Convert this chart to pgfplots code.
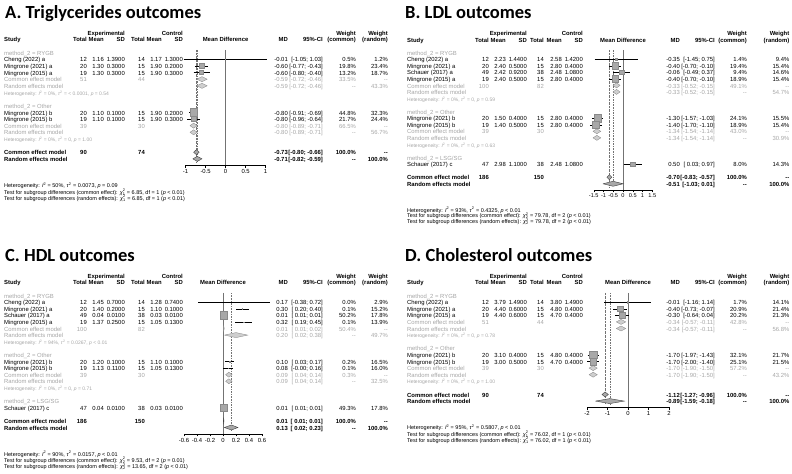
\documentclass[border=0pt]{standalone}
\usepackage{pgfplots}
\pgfplotsset{compat=1.18}
\usepackage{fontspec}
\setmainfont{Liberation Sans}
\newfontfamily\titlefont{Carlito}
\definecolor{sub}{HTML}{A6A6A6}
\definecolor{sqf}{HTML}{A8A8A8}
\definecolor{sqd}{HTML}{8A8A8A}
\newcommand\fnt{\fontsize{5.9bp}{7bp}\selectfont}
\newcommand\ftick{\fontsize{5.6bp}{7bp}\selectfont}
\newcommand\fhet{\fontsize{5bp}{6bp}\selectfont}
\newcommand\fbot{\fontsize{5.5bp}{6.5bp}\selectfont}
\newcommand\ftitle{\titlefont\bfseries\fontsize{18.5bp}{20bp}\selectfont}
\newcommand\chisq[1]{\textit{χ}\rlap{\textsuperscript{2}}\textsubscript{#1}}
\newcommand\Isq{\textit{I}\textsuperscript{2}}
\newcommand\tsq{\textit{τ}\textsuperscript{2}}
% column sets (absolute x)
\newcommand\colsL{\def\cS{4}\def\cNa{87}\def\cMa{104}\def\cSa{125}\def\cNb{145}\def\cMb{162}\def\cSb{183}%
 \def\cMD{288}\def\cCI{323}\def\cWc{356}\def\cWr{388}}
\newcommand\colsR{\def\cS{407}\def\cNa{489}\def\cMa{506}\def\cSa{527}\def\cNb{544}\def\cMb{562}\def\cSb{583}%
 \def\cMD{680}\def\cCI{715}\def\cWc{747}\def\cWr{789.5}}
\newcommand\PY[1]{{\Rz+#1*\Sp}}
\newcommand\PX[1]{{#1}}
\newcommand\srow[8]{%
 \node[L] at (\PX{\cS},\PY{#1}) {#2};
 \node[R] at (\PX{\cNa},\PY{#1}) {#3};
 \node[R] at (\PX{\cMa},\PY{#1}) {#4};
 \node[R] at (\PX{\cSa},\PY{#1}) {#5};
 \node[R] at (\PX{\cNb},\PY{#1}) {#6};
 \node[R] at (\PX{\cMb},\PY{#1}) {#7};
 \node[R] at (\PX{\cSb},\PY{#1}) {#8};}
\newcommand\rrow[5]{%
 \node[R] at (\PX{\cMD},\PY{#1}) {#2};
 \node[R] at (\PX{\cCI},\PY{#1}) {#3};
 \node[R] at (\PX{\cWc},\PY{#1}) {#4};
 \node[R] at (\PX{\cWr},\PY{#1}) {#5};}
\newcommand\crow[7]{%
 \node[L] at (\PX{\cS},\PY{#1}) {Common effect model};
 \node[R] at (\PX{\cNa},\PY{#1}) {#2};
 \node[R] at (\PX{\cNb},\PY{#1}) {#3};
 \rrow{#1}{#4}{#5}{#6}{#7}}
\newcommand\rarow[5]{%
 \node[L] at (\PX{\cS},\PY{#1}) {Random effects model};
 \rrow{#1}{#2}{#3}{#4}{#5}}
\newcommand\grp[2]{\node[L,text=sub] at (\PX{\cS},\PY{#1}) {#2};}
\newcommand\het[2]{\node[L,text=sub,font=\fhet] at (\PX{\cS},\PY{#1}) {#2};}
\newcommand\header{%
 \begin{scope}[every node/.append style={font=\fnt\bfseries}]
 \node[R] at (\PX{\cSa},\PY{0}) {Experimental};
 \node[R] at (\PX{\cSb},\PY{0}) {Control};
 \node[R] at (\PX{\cWc},\PY{0}) {Weight};
 \node[R] at (\PX{\cWr},\PY{0}) {Weight};
 \node[L] at (\PX{\cS},\PY{1}) {Study};
 \node[R] at (\PX{\cNa},\PY{1}) {Total};
 \node[R] at (\PX{\cMa},\PY{1}) {Mean};
 \node[R] at (\PX{\cSa},\PY{1}) {SD};
 \node[R] at (\PX{\cNb},\PY{1}) {Total};
 \node[R] at (\PX{\cMb},\PY{1}) {Mean};
 \node[R] at (\PX{\cSb},\PY{1}) {SD};
 \node[C] at (\fc,\PY{1}) {Mean Difference};
 \node[R] at (\PX{\cMD},\PY{1}) {MD};
 \node[R] at (\PX{\cCI},\PY{1}) {95\%-CI};
 \node[R] at (\PX{\cWc},\PY{1}) {(common)};
 \node[R] at (\PX{\cWr},\PY{1}) {(random)};
 \end{scope}}
\pgfplotsset{
 fp/.style={scale only axis, anchor=north west, clip=false, enlargelimits=false,
  axis y line=none, axis x line*=bottom, x axis line style={-, line width=0.4pt, black},
  tick align=outside, major tick length=2.5bp, xtick style={black, line width=0.4pt},
  xticklabel style={font=\fnt, inner sep=1.5pt, text=black}, ytick=\empty},
 zl/.style={draw=black!55, line width=0.4pt},
 cl/.style={draw=black!55, line width=0.4pt, densely dotted},
 rl/.style={draw=black!55, line width=0.4pt, dash pattern=on 1.6pt off 1pt},
 ci/.style={black, line width=0.35pt, unbounded coords=jump, mark=none},
 sqr/.style={only marks, mark=square*, scatter,
  scatter/use mapped color={draw=sqd, fill=sqf},
  visualization depends on={3.7*sqrt(\thisrow{w}/#1) \as \msz},
  scatter/@pre marker code/.append style={/tikz/mark size=\msz, /tikz/line width=0.3pt}},
 dsub/.style={draw=sqd, fill=sqf!55, line width=0.35pt, mark=none},
 dall/.style={draw=black!75, fill=sqf, line width=0.4pt, mark=none},
}
\begin{document}
\begin{tikzpicture}[x=1bp,y=-1bp, every node/.style={inner sep=0pt, font=\fnt},
  L/.style={anchor=mid west}, R/.style={anchor=mid east}, C/.style={anchor=mid}]
\useasboundingbox (0,0) rectangle (792,474);
% ================= Panel A =================
\colsL\def\Rz{32.7}\def\Sp{6.64}\def\fc{225.6}
\node[anchor=base west, font=\ftitle] at (5,19) {A. Triglycerides outcomes};
\header
\grp{3}{method\_2 = RYGB}
\srow{4}{Cheng (2022) a}{12}{1.16}{1.3900}{14}{1.17}{1.3000}
\rrow{4}{-0.01}{[-1.05; 1.03]}{0.5\%}{1.2\%}
\srow{5}{Mingrone (2021) a}{20}{1.30}{0.3000}{15}{1.90}{0.2000}
\rrow{5}{-0.60}{[-0.77; -0.43]}{19.8\%}{23.4\%}
\srow{6}{Mingrone (2015) a}{19}{1.30}{0.3000}{15}{1.90}{0.3000}
\rrow{6}{-0.60}{[-0.80; -0.40]}{13.2\%}{18.7\%}
\begin{scope}[every node/.append style={text=sub}]
\crow{7}{51}{44}{-0.59}{[-0.72; -0.46]}{33.5\%}{{-}{-}}
\rarow{8}{-0.59}{[-0.72; -0.46]}{{-}{-}}{43.3\%}
\end{scope}
\het{9}{Heterogeneity: \Isq{} = 0\%, \tsq{} = < 0.0001, \textit{p} = 0.54}
\grp{11}{method\_2 = Other}
\srow{12}{Mingrone (2021) b}{20}{1.10}{0.1000}{15}{1.90}{0.2000}
\rrow{12}{-0.80}{[-0.91; -0.69]}{44.8\%}{32.3\%}
\srow{13}{Mingrone (2015) b}{19}{1.10}{0.1000}{15}{1.90}{0.3000}
\rrow{13}{-0.80}{[-0.96; -0.64]}{21.7\%}{24.4\%}
\begin{scope}[every node/.append style={text=sub}]
\crow{14}{39}{30}{-0.80}{[-0.89; -0.71]}{66.5\%}{{-}{-}}
\rarow{15}{-0.80}{[-0.89; -0.71]}{{-}{-}}{56.7\%}
\end{scope}
\het{16}{Heterogeneity: \Isq{} = 0\%, \tsq{} = 0, \textit{p} = 1.00}
\begin{scope}[every node/.append style={font=\fnt\bfseries}]
\crow{18}{90}{74}{-0.73}{[-0.80; -0.66]}{100.0\%}{{-}{-}}
\rarow{19}{-0.71}{[-0.82; -0.59]}{{-}{-}}{100.0\%}
\end{scope}
\node[L,font=\fbot] at (\PX{\cS},185.1) {Heterogeneity: \Isq{} = 50\%, \tsq{} = 0.0073, \textit{p} = 0.09};
\node[L,font=\fbot] at (\PX{\cS},191.4) {Test for subgroup differences (common effect): \chisq{1} = 6.85, df = 1 (\textit{p} < 0.01)};
\node[L,font=\fbot] at (\PX{\cS},197.7) {Test for subgroup differences (random effects): \chisq{1} = 6.85, df = 1 (\textit{p} < 0.01)};
\begin{axis}[fp, at={(185.6bp,-49.96bp)}, width=80bp, height=115.2bp,
  xmin=-1, xmax=1, ymin=-19.95, ymax=-2.6,
  xtick={-1,-0.5,0,0.5,1}, xticklabels={-1,-0.5,0,0.5,1}]
\addplot[zl] coordinates {(0,-2.6) (0,-19.95)};
\addplot[cl] coordinates {(-0.73,-2.6) (-0.73,-19.5)};
\addplot[rl] coordinates {(-0.71,-2.6) (-0.71,-19.5)};
\addplot[ci] table {
x y
-1.05 -4
1.03 -4
nan nan
-0.77 -5
-0.43 -5
nan nan
-0.80 -6
-0.40 -6
nan nan
-0.91 -12
-0.69 -12
nan nan
-0.96 -13
-0.64 -13
};
\addplot[sqr=44.8] table[x=md, y=row] {
md row w
-0.01 -4 0.5
-0.60 -5 19.8
-0.60 -6 13.2
-0.80 -12 44.8
-0.80 -13 21.7
};
\addplot[dsub] coordinates {(-0.72,-7) (-0.59,-6.62) (-0.46,-7) (-0.59,-7.38) (-0.72,-7)};
\addplot[dsub] coordinates {(-0.72,-8) (-0.59,-7.62) (-0.46,-8) (-0.59,-8.38) (-0.72,-8)};
\addplot[dsub] coordinates {(-0.89,-14) (-0.80,-13.62) (-0.71,-14) (-0.80,-14.38) (-0.89,-14)};
\addplot[dsub] coordinates {(-0.89,-15) (-0.80,-14.62) (-0.71,-15) (-0.80,-15.38) (-0.89,-15)};
\addplot[dall] coordinates {(-0.80,-18) (-0.73,-17.62) (-0.66,-18) (-0.73,-18.38) (-0.80,-18)};
\addplot[dall] coordinates {(-0.82,-19) (-0.71,-18.62) (-0.59,-19) (-0.71,-19.38) (-0.82,-19)};
\end{axis}
% ================= Panel B =================
\colsR\def\Rz{32.9}\def\Sp{6.56}\def\fc{623}
\node[anchor=base west, font=\ftitle] at (405,19) {B. LDL outcomes};
\header
\grp{3}{method\_2 = RYGB}
\srow{4}{Cheng (2022) a}{12}{2.23}{1.4400}{14}{2.58}{1.4200}
\rrow{4}{-0.35}{[-1.45; 0.75]}{1.4\%}{9.4\%}
\srow{5}{Mingrone (2021) a}{20}{2.40}{0.5000}{15}{2.80}{0.4000}
\rrow{5}{-0.40}{[-0.70; -0.10]}{19.4\%}{15.4\%}
\srow{6}{Schauer (2017) a}{49}{2.42}{0.9200}{38}{2.48}{1.0800}
\rrow{6}{-0.06}{[-0.49; 0.37]}{9.4\%}{14.6\%}
\srow{7}{Mingrone (2015) a}{19}{2.40}{0.5000}{15}{2.80}{0.4000}
\rrow{7}{-0.40}{[-0.70; -0.10]}{18.9\%}{15.4\%}
\begin{scope}[every node/.append style={text=sub}]
\crow{8}{100}{82}{-0.33}{[-0.52; -0.15]}{49.1\%}{{-}{-}}
\rarow{9}{-0.33}{[-0.52; -0.15]}{{-}{-}}{54.7\%}
\end{scope}
\het{10}{Heterogeneity: \Isq{} = 0\%, \tsq{} = 0, \textit{p} = 0.59}
\grp{12}{method\_2 = Other}
\srow{13}{Mingrone (2021) b}{20}{1.50}{0.4000}{15}{2.80}{0.4000}
\rrow{13}{-1.30}{[-1.57; -1.03]}{24.1\%}{15.5\%}
\srow{14}{Mingrone (2015) b}{19}{1.40}{0.5000}{15}{2.80}{0.4000}
\rrow{14}{-1.40}{[-1.70; -1.10]}{18.9\%}{15.4\%}
\begin{scope}[every node/.append style={text=sub}]
\crow{15}{39}{30}{-1.34}{[-1.54; -1.14]}{43.0\%}{{-}{-}}
\rarow{16}{-1.34}{[-1.54; -1.14]}{{-}{-}}{30.9\%}
\end{scope}
\het{17}{Heterogeneity: \Isq{} = 0\%, \tsq{} = 0, \textit{p} = 0.63}
\grp{19}{method\_2 = LSG/SG}
\srow{20}{Schauer (2017) c}{47}{2.98}{1.1000}{38}{2.48}{1.0800}
\rrow{20}{0.50}{[ 0.03; 0.97]}{8.0\%}{14.3\%}
\begin{scope}[every node/.append style={font=\fnt\bfseries}]
\crow{22}{186}{150}{-0.70}{[-0.83; -0.57]}{100.0\%}{{-}{-}}
\rarow{23}{-0.51}{[-1.03; 0.01]}{{-}{-}}{100.0\%}
\end{scope}
\node[L,font=\fbot] at (\PX{\cS},209.4) {Heterogeneity: \Isq{} = 93\%, \tsq{} = 0.4325, \textit{p} < 0.01};
\node[L,font=\fbot] at (\PX{\cS},215.2) {Test for subgroup differences (common effect): \chisq{2} = 79.78, df = 2 (\textit{p} < 0.01)};
\node[L,font=\fbot] at (\PX{\cS},221.2) {Test for subgroup differences (random effects): \chisq{2} = 79.78, df = 2 (\textit{p} < 0.01)};
\begin{axis}[fp, at={(593.75bp,-49.96bp)}, width=58.5bp, height=139.86bp,
  xmin=-1.5, xmax=1.5, ymin=-23.92, ymax=-2.6, xticklabel style={font=\ftick},
  xtick={-1.5,-1,-0.5,0,0.5,1,1.5}, xticklabels={-1.5,-1,-0.5,0,0.5,1,1.5}]
\addplot[zl] coordinates {(0,-2.6) (0,-23.92)};
\addplot[cl] coordinates {(-0.70,-2.6) (-0.70,-23.5)};
\addplot[rl] coordinates {(-0.51,-2.6) (-0.51,-23.5)};
\addplot[ci] table {
x y
-1.45 -4
0.75 -4
nan nan
-0.70 -5
-0.10 -5
nan nan
-0.49 -6
0.37 -6
nan nan
-0.70 -7
-0.10 -7
nan nan
-1.57 -13
-1.03 -13
nan nan
-1.70 -14
-1.10 -14
nan nan
0.03 -20
0.97 -20
};
\addplot[sqr=24.1] table[x=md, y=row] {
md row w
-0.35 -4 1.4
-0.40 -5 19.4
-0.06 -6 9.4
-0.40 -7 18.9
-1.30 -13 24.1
-1.40 -14 18.9
0.50 -20 8.0
};
\addplot[dsub] coordinates {(-0.52,-8) (-0.33,-7.62) (-0.15,-8) (-0.33,-8.38) (-0.52,-8)};
\addplot[dsub] coordinates {(-0.52,-9) (-0.33,-8.62) (-0.15,-9) (-0.33,-9.38) (-0.52,-9)};
\addplot[dsub] coordinates {(-1.54,-15) (-1.34,-14.62) (-1.14,-15) (-1.34,-15.38) (-1.54,-15)};
\addplot[dsub] coordinates {(-1.54,-16) (-1.34,-15.62) (-1.14,-16) (-1.34,-16.38) (-1.54,-16)};
\addplot[dall] coordinates {(-0.83,-22) (-0.70,-21.62) (-0.57,-22) (-0.70,-22.38) (-0.83,-22)};
\addplot[dall] coordinates {(-1.03,-23) (-0.51,-22.62) (0.01,-23) (-0.51,-23.38) (-1.03,-23)};
\end{axis}
% ================= Panel C =================
\colsL\def\Rz{275.7}\def\Sp{6.6}\def\fc{223}
\node[anchor=base west, font=\ftitle] at (5,262) {C. HDL outcomes};
\header
\grp{3}{method\_2 = RYGB}
\srow{4}{Cheng (2022) a}{12}{1.45}{0.7000}{14}{1.28}{0.7400}
\rrow{4}{0.17}{[-0.38; 0.72]}{0.0\%}{2.9\%}
\srow{5}{Mingrone (2021) a}{20}{1.40}{0.2000}{15}{1.10}{0.1000}
\rrow{5}{0.30}{[ 0.20; 0.40]}{0.1\%}{15.2\%}
\srow{6}{Schauer (2017) a}{49}{0.04}{0.0100}{38}{0.03}{0.0100}
\rrow{6}{0.01}{[ 0.01; 0.01]}{50.2\%}{17.8\%}
\srow{7}{Mingrone (2015) a}{19}{1.37}{0.2500}{15}{1.05}{0.1300}
\rrow{7}{0.32}{[ 0.19; 0.45]}{0.1\%}{13.9\%}
\begin{scope}[every node/.append style={text=sub}]
\crow{8}{100}{82}{0.01}{[ 0.01; 0.02]}{50.4\%}{{-}{-}}
\rarow{9}{0.20}{[ 0.02; 0.38]}{{-}{-}}{49.7\%}
\end{scope}
\het{10}{Heterogeneity: \Isq{} = 94\%, \tsq{} = 0.0267, \textit{p} < 0.01}
\grp{12}{method\_2 = Other}
\srow{13}{Mingrone (2021) b}{20}{1.20}{0.1000}{15}{1.10}{0.1000}
\rrow{13}{0.10}{[ 0.03; 0.17]}{0.2\%}{16.5\%}
\srow{14}{Mingrone (2015) b}{19}{1.13}{0.1100}{15}{1.05}{0.1300}
\rrow{14}{0.08}{[-0.00; 0.16]}{0.1\%}{16.0\%}
\begin{scope}[every node/.append style={text=sub}]
\crow{15}{39}{30}{0.09}{[ 0.04; 0.14]}{0.3\%}{{-}{-}}
\rarow{16}{0.09}{[ 0.04; 0.14]}{{-}{-}}{32.5\%}
\end{scope}
\het{17}{Heterogeneity: \Isq{} = 0\%, \tsq{} = 0, \textit{p} = 0.71}
\grp{19}{method\_2 = LSG/SG}
\srow{20}{Schauer (2017) c}{47}{0.04}{0.0100}{38}{0.03}{0.0100}
\rrow{20}{0.01}{[ 0.01; 0.01]}{49.3\%}{17.8\%}
\begin{scope}[every node/.append style={font=\fnt\bfseries}]
\crow{22}{186}{150}{0.01}{[ 0.01; 0.01]}{100.0\%}{{-}{-}}
\rarow{23}{0.13}{[ 0.02; 0.23]}{{-}{-}}{100.0\%}
\end{scope}
\node[L,font=\fbot] at (\PX{\cS},453.5) {Heterogeneity: \Isq{} = 90\%, \tsq{} = 0.0157, \textit{p} < 0.01};
\node[L,font=\fbot] at (\PX{\cS},459.8) {Test for subgroup differences (common effect): \chisq{2} = 9.53, df = 2 (\textit{p} = 0.01)};
\node[L,font=\fbot] at (\PX{\cS},466.1) {Test for subgroup differences (random effects): \chisq{2} = 13.65, df = 2 (\textit{p} < 0.01)};
\begin{axis}[fp, at={(184bp,-292.86bp)}, width=78bp, height=140.9bp,
  xmin=-0.6, xmax=0.6, ymin=-23.95, ymax=-2.6,
  xtick={-0.6,-0.4,-0.2,0,0.2,0.4,0.6}, xticklabels={-0.6,-0.4,-0.2,0,0.2,0.4,0.6}]
\addplot[zl] coordinates {(0,-2.6) (0,-23.95)};
\addplot[cl] coordinates {(0.01,-2.6) (0.01,-23.5)};
\addplot[rl] coordinates {(0.13,-2.6) (0.13,-23.5)};
\addplot[ci] table {
x y
-0.38 -4
0.72 -4
nan nan
0.20 -5
0.40 -5
nan nan
0.005 -6
0.015 -6
nan nan
0.19 -7
0.45 -7
nan nan
0.03 -13
0.17 -13
nan nan
-0.00 -14
0.16 -14
nan nan
0.005 -20
0.015 -20
};
\addplot[sqr=50.2] table[x=md, y=row] {
md row w
0.17 -4 0.0
0.30 -5 0.1
0.01 -6 50.2
0.32 -7 0.1
0.10 -13 0.2
0.08 -14 0.1
0.01 -20 49.3
};
\addplot[dsub] coordinates {(0.01,-8) (0.01,-7.62) (0.02,-8) (0.01,-8.38) (0.01,-8)};
\addplot[dsub] coordinates {(0.02,-9) (0.20,-8.62) (0.38,-9) (0.20,-9.38) (0.02,-9)};
\addplot[dsub] coordinates {(0.04,-15) (0.09,-14.62) (0.14,-15) (0.09,-15.38) (0.04,-15)};
\addplot[dsub] coordinates {(0.04,-16) (0.09,-15.62) (0.14,-16) (0.09,-16.38) (0.04,-16)};
\addplot[dall] coordinates {(0.005,-22) (0.01,-21.62) (0.015,-22) (0.01,-22.38) (0.005,-22)};
\addplot[dall] coordinates {(0.02,-23) (0.13,-22.62) (0.23,-23) (0.13,-23.38) (0.02,-23)};
\end{axis}
% ================= Panel D =================
\colsR\def\Rz{275.7}\def\Sp{6.6}\def\fc{628}
\node[anchor=base west, font=\ftitle] at (405,262) {D. Cholesterol outcomes};
\header
\grp{3}{method\_2 = RYGB}
\srow{4}{Cheng (2022) a}{12}{3.79}{1.4900}{14}{3.80}{1.4900}
\rrow{4}{-0.01}{[-1.16; 1.14]}{1.7\%}{14.1\%}
\srow{5}{Mingrone (2021) a}{20}{4.40}{0.6000}{15}{4.80}{0.4000}
\rrow{5}{-0.40}{[-0.73; -0.07]}{20.9\%}{21.4\%}
\srow{6}{Mingrone (2015) a}{19}{4.40}{0.6000}{15}{4.70}{0.4000}
\rrow{6}{-0.30}{[-0.64; 0.04]}{20.2\%}{21.3\%}
\begin{scope}[every node/.append style={text=sub}]
\crow{7}{51}{44}{-0.34}{[-0.57; -0.11]}{42.8\%}{{-}{-}}
\rarow{8}{-0.34}{[-0.57; -0.11]}{{-}{-}}{56.8\%}
\end{scope}
\het{9}{Heterogeneity: \Isq{} = 0\%, \tsq{} = 0, \textit{p} = 0.78}
\grp{11}{method\_2 = Other}
\srow{12}{Mingrone (2021) b}{20}{3.10}{0.4000}{15}{4.80}{0.4000}
\rrow{12}{-1.70}{[-1.97; -1.43]}{32.1\%}{21.7\%}
\srow{13}{Mingrone (2015) b}{19}{3.00}{0.5000}{15}{4.70}{0.4000}
\rrow{13}{-1.70}{[-2.00; -1.40]}{25.1\%}{21.5\%}
\begin{scope}[every node/.append style={text=sub}]
\crow{14}{39}{30}{-1.70}{[-1.90; -1.50]}{57.2\%}{{-}{-}}
\rarow{15}{-1.70}{[-1.90; -1.50]}{{-}{-}}{43.2\%}
\end{scope}
\het{16}{Heterogeneity: \Isq{} = 0\%, \tsq{} = 0, \textit{p} = 1.00}
\begin{scope}[every node/.append style={font=\fnt\bfseries}]
\crow{18}{90}{74}{-1.12}{[-1.27; -0.96]}{100.0\%}{{-}{-}}
\rarow{19}{-0.89}{[-1.59; -0.18]}{{-}{-}}{100.0\%}
\end{scope}
\node[L,font=\fbot] at (\PX{\cS},427.1) {Heterogeneity: \Isq{} = 95\%, \tsq{} = 0.5807, \textit{p} < 0.01};
\node[L,font=\fbot] at (\PX{\cS},433.4) {Test for subgroup differences (common effect): \chisq{1} = 76.02, df = 1 (\textit{p} < 0.01)};
\node[L,font=\fbot] at (\PX{\cS},439.7) {Test for subgroup differences (random effects): \chisq{1} = 76.02, df = 1 (\textit{p} < 0.01)};
\begin{axis}[fp, at={(587bp,-292.86bp)}, width=82bp, height=114.5bp,
  xmin=-2, xmax=2, ymin=-19.95, ymax=-2.6,
  xtick={-2,-1,0,1,2}, xticklabels={-2,-1,0,1,2}]
\addplot[zl] coordinates {(0,-2.6) (0,-19.95)};
\addplot[cl] coordinates {(-1.12,-2.6) (-1.12,-19.5)};
\addplot[rl] coordinates {(-0.89,-2.6) (-0.89,-19.5)};
\addplot[ci] table {
x y
-1.16 -4
1.14 -4
nan nan
-0.73 -5
-0.07 -5
nan nan
-0.64 -6
0.04 -6
nan nan
-1.97 -12
-1.43 -12
nan nan
-2.00 -13
-1.40 -13
};
\addplot[sqr=32.1] table[x=md, y=row] {
md row w
-0.01 -4 1.7
-0.40 -5 20.9
-0.30 -6 20.2
-1.70 -12 32.1
-1.70 -13 25.1
};
\addplot[dsub] coordinates {(-0.57,-7) (-0.34,-6.62) (-0.11,-7) (-0.34,-7.38) (-0.57,-7)};
\addplot[dsub] coordinates {(-0.57,-8) (-0.34,-7.62) (-0.11,-8) (-0.34,-8.38) (-0.57,-8)};
\addplot[dsub] coordinates {(-1.90,-14) (-1.70,-13.62) (-1.50,-14) (-1.70,-14.38) (-1.90,-14)};
\addplot[dsub] coordinates {(-1.90,-15) (-1.70,-14.62) (-1.50,-15) (-1.70,-15.38) (-1.90,-15)};
\addplot[dall] coordinates {(-1.27,-18) (-1.12,-17.62) (-0.96,-18) (-1.12,-18.38) (-1.27,-18)};
\addplot[dall] coordinates {(-1.59,-19) (-0.89,-18.62) (-0.18,-19) (-0.89,-19.38) (-1.59,-19)};
\end{axis}
\end{tikzpicture}
\end{document}
